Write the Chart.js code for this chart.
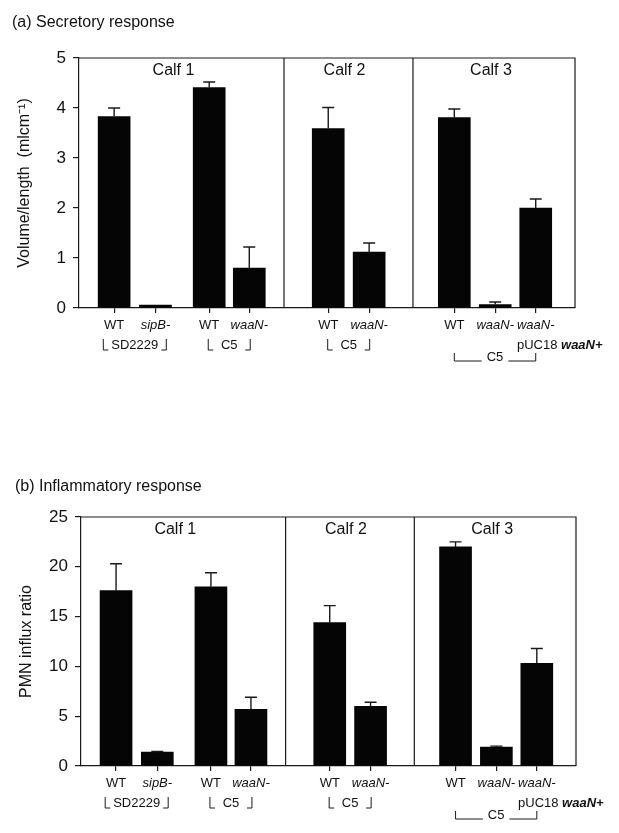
<!DOCTYPE html>
<html>
<head>
<meta charset="utf-8">
<script src="https://cdn.jsdelivr.net/npm/chart.js@4.4.1/dist/chart.umd.min.js"></script>
<style>
  body { margin: 0; background: #fff; width: 619px; height: 833px; position: relative; overflow: hidden; }
  .panel { position: absolute; left: 0; width: 619px; }
  #wrapA { top: 0; height: 400px; }
  #wrapB { top: 460px; height: 373px; }
</style>
</head>
<body>
<div class="panel" id="wrapA"><canvas id="secretoryChart"></canvas></div>
<div class="panel" id="wrapB"><canvas id="inflammatoryChart"></canvas></div>
<script>
// data
const strains = ['WT', 'sipB-', 'WT', 'waaN-', 'WT', 'waaN-', 'WT', 'waaN-', 'waaN-'];
const calves = ['Calf 1', 'Calf 2', 'Calf 3'];
const parents = ['SD2229', 'C5', 'C5', 'C5'];
const secretory = [3.83, 0.06, 4.41, 0.80, 3.59, 1.12, 3.81, 0.07, 2.00];
const secretoryErr = [0.17, 0, 0.11, 0.42, 0.42, 0.18, 0.17, 0.05, 0.18];
const inflammatory = [17.6, 1.4, 18.0, 5.7, 14.4, 6.0, 22.0, 1.9, 10.3];
const inflammatoryErr = [2.7, 0.05, 1.4, 1.2, 1.7, 0.4, 0.5, 0.1, 1.5];
const secretoryTicks = [0, 1, 2, 3, 4, 5];
const inflammatoryTicks = [0, 5, 10, 15, 20, 25];

Chart.defaults.font.family = '"Liberation Sans", Arial, sans-serif';
Chart.defaults.color = '#111';

// where the bars sit along the x axis (axis runs 0..12)
const slot = [0.85, 1.85, 3.15, 4.12, 6.03, 7.02, 9.08, 10.07, 11.05];
const dividers = [4.96, 8.08];
const calfShift = [-8, -4, -3];
const ink = '#1a1a1a';
const FONT = '"Liberation Sans", Arial, sans-serif';
const LBL = '13px ';

const decorations = {
    id: 'decorations',
    afterDraw(chart, args, o) {
        const ctx = chart.ctx;
        const a = chart.chartArea;
        const x = chart.scales.x, y = chart.scales.y;
        ctx.save();
        ctx.strokeStyle = ink;
        ctx.lineWidth = 1.2;

        // box top/right + calf dividers
        ctx.beginPath();
        ctx.moveTo(a.left, a.top);
        ctx.lineTo(a.right, a.top);
        ctx.lineTo(a.right, a.bottom);
        dividers.forEach(d => {
            const px = x.getPixelForValue(d);
            ctx.moveTo(px, a.top);
            ctx.lineTo(px, a.bottom);
        });
        ctx.stroke();

        // upper error bars
        ctx.lineWidth = 1.4;
        chart.getDatasetMeta(0).data.forEach((bar, i) => {
            const e = o.err[i];
            if (!e) return;
            const top = y.getPixelForValue(o.values[i] + e);
            ctx.beginPath();
            ctx.moveTo(bar.x, bar.y);
            ctx.lineTo(bar.x, top);
            ctx.moveTo(bar.x - 6, top);
            ctx.lineTo(bar.x + 6, top);
            ctx.stroke();
        });

        ctx.fillStyle = '#111';
        ctx.textAlign = 'center';
        ctx.textBaseline = 'middle';

        // calf labels
        ctx.font = '16px ' + FONT;
        const edges = [x.min, ...dividers, x.max];
        calves.forEach((c, i) => {
            const cx = (x.getPixelForValue(edges[i]) + x.getPixelForValue(edges[i + 1])) / 2;
            ctx.fillText(c, cx + calfShift[i], a.top + 13);
        });

        // strain labels
        const row1 = a.bottom + 17, row2 = a.bottom + 37, row3 = a.bottom + 49;
        const cxs = slot.map(v => x.getPixelForValue(v));
        strains.forEach((s, i) => {
            ctx.font = (s === 'WT' ? '' : 'italic ') + LBL + FONT;
            ctx.fillText(s, cxs[i], row1);
        });

        // pUC18 waaN+ under the last bar, left aligned with its label
        ctx.font = 'italic ' + LBL + FONT;
        const lx = cxs[8] - ctx.measureText(strains[8]).width / 2;
        ctx.textAlign = 'left';
        ctx.font = LBL + FONT;
        ctx.fillText('pUC18 ', lx, row2);
        const w1 = ctx.measureText('pUC18 ').width;
        ctx.font = 'italic bold ' + LBL + FONT;
        ctx.fillText('waaN+', lx + w1, row2);

        // short brackets: └SD2229┘ └ C5 ┘ └ C5 ┘
        ctx.textAlign = 'center';
        ctx.font = LBL + FONT;
        ctx.lineWidth = 1;
        [[0, 1], [2, 3], [4, 5]].forEach((pair, k) => {
            const cx = (cxs[pair[0]] + cxs[pair[1]]) / 2;
            const label = parents[k];
            ctx.fillText(label, cx, row2);
            const half = Math.max(ctx.measureText(label).width / 2 + 8, 21);
            ctx.beginPath();
            ctx.moveTo(cx - half, row2 - 6);
            ctx.lineTo(cx - half, row2 + 5);
            ctx.lineTo(cx - half + 5, row2 + 5);
            ctx.moveTo(cx + half, row2 - 6);
            ctx.lineTo(cx + half, row2 + 5);
            ctx.lineTo(cx + half - 5, row2 + 5);
            ctx.stroke();
        });

        // long bracket under calf 3
        const l = cxs[6], r = cxs[8], mid = (l + r) / 2;
        const label = parents[3];
        ctx.fillText(label, mid, row3);
        const hw = ctx.measureText(label).width / 2 + 5;
        const base = row3 + 4;
        ctx.beginPath();
        ctx.moveTo(l, base - 8);
        ctx.lineTo(l, base);
        ctx.lineTo(mid - hw, base);
        ctx.moveTo(mid + hw, base);
        ctx.lineTo(r, base);
        ctx.lineTo(r, base - 8);
        ctx.stroke();

        ctx.restore();
    }
};

function makeChart(id, title, yTitle, values, err, ticks, box) {
    return new Chart(document.getElementById(id), {
        type: 'bar',
        data: {
            datasets: [{
                data: values.map((v, i) => ({ x: slot[i], y: v })),
                backgroundColor: '#050505',
                borderWidth: 0,
                barThickness: 32
            }]
        },
        options: {
            responsive: true,
            maintainAspectRatio: false,
            animation: false,
            layout: { padding: { left: box.left, right: box.right, top: 0, bottom: 0 } },
            plugins: {
                legend: { display: false },
                tooltip: { enabled: false },
                title: {
                    display: true,
                    text: title,
                    align: 'start',
                    color: '#111',
                    font: { size: 16, weight: 'normal' },
                    padding: { top: box.titleTop, bottom: box.titleBottom }
                },
                decorations: { values: values, err: err }
            },
            scales: {
                x: {
                    type: 'linear',
                    min: 0,
                    max: 12,
                    offset: false,
                    grid: { drawOnChartArea: false, offset: false, tickLength: 5, color: ink, lineWidth: 1.2 },
                    border: { color: ink, width: 1.2 },
                    ticks: { display: false },
                    afterBuildTicks: s => { s.ticks = slot.map(v => ({ value: v })); },
                    afterFit: s => { s.height = box.xHeight; }
                },
                y: {
                    min: 0,
                    max: ticks[ticks.length - 1],
                    grid: { drawOnChartArea: false, tickLength: 6, color: ink, lineWidth: 1.2 },
                    border: { color: ink, width: 1.2 },
                    ticks: { font: { size: 17 }, color: '#111', padding: 7 },
                    afterBuildTicks: s => { s.ticks = ticks.map(v => ({ value: v })); },
                    title: { display: true, text: yTitle, font: { size: 16 }, color: '#111', padding: { top: box.yTitlePad, bottom: 0 } },
                    afterFit: s => { s.width = box.yWidth; }
                }
            }
        },
        plugins: [decorations]
    });
}

makeChart('secretoryChart', '(a) Secretory response', 'Volume/length  (mlcm\u207B\u00B9)',
    secretory, secretoryErr, secretoryTicks,
    { left: 12, right: 44, titleTop: 13.4, titleBottom: 25.4, xHeight: 92, yWidth: 67, yTitlePad: 3.4 });

makeChart('inflammatoryChart', '(b) Inflammatory response', 'PMN influx ratio',
    inflammatory, inflammatoryErr, inflammatoryTicks,
    { left: 15, right: 43, titleTop: 17.4, titleBottom: 20.4, xHeight: 67, yWidth: 66, yTitlePad: 1.5 });
</script>
</body>
</html>
